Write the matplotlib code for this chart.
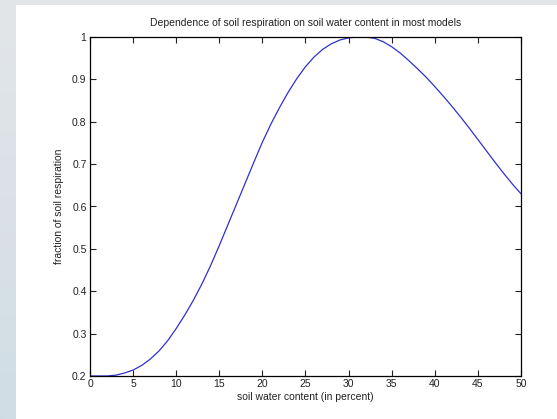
import numpy as np
import matplotlib
matplotlib.use('Agg')
import matplotlib.pyplot as plt
from matplotlib.patches import Rectangle

# soil water content (percent) and fraction of soil respiration
water = [0, 2, 3, 4, 5, 6, 7, 8, 9, 10, 11, 12, 13, 14, 15, 16, 17, 18, 19, 20,
         21, 22, 23, 24, 25, 26, 27, 28, 29, 30, 31, 32, 33, 34, 35, 36, 37, 38,
         39, 40, 41, 42, 43, 44, 45, 46, 47, 48, 49, 50]
resp = [0.200, 0.200, 0.202, 0.207, 0.214, 0.225, 0.240, 0.259, 0.283, 0.312,
        0.344, 0.379, 0.418, 0.461, 0.508, 0.557, 0.606, 0.655, 0.704, 0.752,
        0.795, 0.834, 0.870, 0.902, 0.930, 0.953, 0.971, 0.984, 0.993, 0.998,
        1.000, 1.000, 0.997, 0.989, 0.977, 0.962, 0.944, 0.925, 0.905, 0.883,
        0.860, 0.836, 0.811, 0.785, 0.758, 0.731, 0.704, 0.678, 0.653, 0.630]

xticks = [0, 5, 10, 15, 20, 25, 30, 35, 40, 45, 50]
yticks = [0.2, 0.3, 0.4, 0.5, 0.6, 0.7, 0.8, 0.9, 1]
ytick_labels = ['0.2', '0.3', '0.4', '0.5', '0.6', '0.7', '0.8', '0.9', '1']

plt.rcParams['font.family'] = ['Liberation Sans', 'DejaVu Sans']

W, H = 557, 419
fig = plt.figure(figsize=(W / 100, H / 100), dpi=100)

# page background: grey frame with a slight bluish gradient, white panel on top
bg = fig.add_axes([0, 0, 1, 1], zorder=-10)
grad = np.linspace(0, 1, 200).reshape(-1, 1)
top = np.array([227, 230, 233]) / 255
bot = np.array([208, 221, 229]) / 255
img = top + (bot - top) * grad[:, :, None]
bg.imshow(img, aspect='auto', extent=[0, 1, 0, 1], origin='upper')
bg.add_patch(Rectangle((16 / W, 0), 1, 1 - 5 / H, color='white', lw=0))
bg.set_xlim(0, 1)
bg.set_ylim(0, 1)
bg.axis('off')

ax = fig.add_axes([90 / W, 43 / H, 431 / W, 339 / H])
ax.plot(water, resp, color='#3030d0', lw=0.9)
ax.set_xlim(0, 50)
ax.set_ylim(0.2, 1)
ax.set_xticks(xticks)
ax.set_yticks(yticks)
ax.set_yticklabels(ytick_labels)
ax.tick_params(direction='in', top=True, right=True, length=4, width=0.8,
               labelsize=7.5, pad=2.5, colors='#222222')
for s in ax.spines.values():
    s.set_linewidth(0.9)
ax.set_xlabel('soil water content (in percent)', fontsize=7.5, labelpad=2, color='#222222')
ax.set_ylabel('fraction of soil respiration', fontsize=7.5, labelpad=6, color='#222222')
ax.set_title('Dependence of soil respiration on soil water content in most models',
             fontsize=7.5, pad=8, color='#222222')

fig.savefig('out.png', dpi=100)
